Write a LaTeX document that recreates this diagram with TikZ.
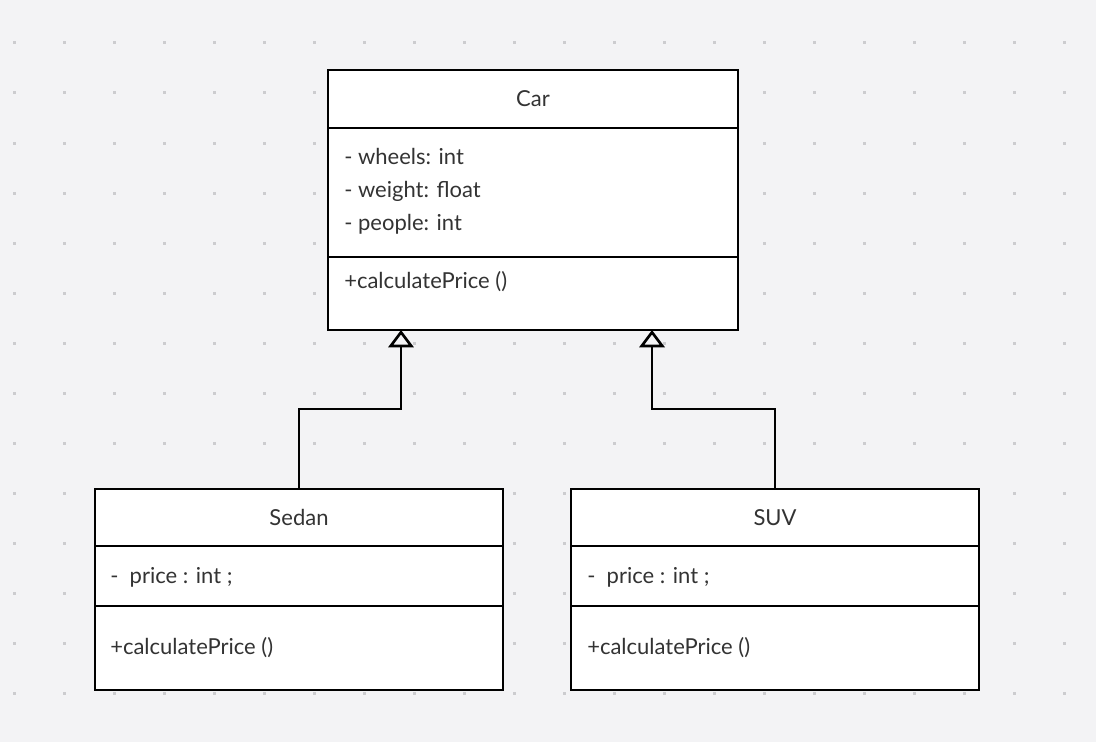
\documentclass[tikz,border=0pt]{standalone}
\usepackage{fontspec}
\setmainfont{Lato}
\usetikzlibrary{arrows.meta,positioning}
\definecolor{canvasgray}{RGB}{243,243,245}
\definecolor{griddot}{RGB}{204,204,207}
\definecolor{inkgray}{RGB}{51,51,51}
\tikzset{
  classbox/.style={draw=black, fill=white, line width=2pt, inner sep=0pt, outer sep=0pt, text=inkgray, font=\fontsize{16.5}{20}\selectfont},
  membertext/.style={anchor=west, inner sep=0.75pt, text=inkgray, align=left, font=\fontsize{16.5}{24.75}\selectfont},
  inherits/.style={line width=2pt, -{Triangle[open, length=13pt, width=19pt]}},
}
\begin{document}
\begin{tikzpicture}[x=0.75pt,y=0.75pt,yscale=-1,xscale=1]
\fill[canvasgray] (0,0) rectangle (1096,742);
\useasboundingbox (0,0) rectangle (1096,742);

%Grid dots
\foreach \col in {0,...,21}
  \foreach \row in {0,...,13}
    \fill[griddot] ({12.5+50*\col},{41.5+50*\row}) rectangle ++(3,3);

%Class Car
\node[classbox, minimum width=307.5pt, minimum height=43.5pt] (carhead) at (533,99) {Car};
\node[classbox, minimum width=307.5pt, minimum height=96.75pt, below=0pt of carhead] (carattrs) {};
\node[classbox, minimum width=307.5pt, minimum height=54.75pt, below=0pt of carattrs] (carops) {};

%Class Sedan
\node[classbox, minimum width=306pt, minimum height=42.75pt] (sedanhead) at (299,517.5) {Sedan};
\node[classbox, minimum width=306pt, minimum height=45pt, below=0pt of sedanhead] (sedanattrs) {};
\node[classbox, minimum width=306pt, minimum height=63pt, below=0pt of sedanattrs] (sedanops) {};

%Class SUV
\node[classbox, minimum width=306pt, minimum height=42.75pt] (suvhead) at (775,517.5) {SUV};
\node[classbox, minimum width=306pt, minimum height=45pt, below=0pt of suvhead] (suvattrs) {};
\node[classbox, minimum width=306pt, minimum height=63pt, below=0pt of suvattrs] (suvops) {};

% Text Node
\node[membertext] (carfields) at (343,191) {- wheels: int\\- weight: float\\- people: int};
\node[membertext] (carmethod) at (343,282) {+calculatePrice ()};
\node[membertext] (sedanfield) at (109,577) {-~~price : int ;};
\node[membertext] (sedanmethod) at (109,648) {+calculatePrice ()};
\node[membertext] (suvfield) at (586,577) {-~~price : int ;};
\node[membertext] (suvmethod) at (586,648) {+calculatePrice ()};

%Generalization
\coordinate (sedanbend) at (401,409);
\coordinate (suvbend) at (652,409);
\draw[inherits] (sedanhead.north) |- (sedanbend) -- (sedanbend |- carops.south);
\draw[inherits] (suvhead.north) |- (suvbend) -- (suvbend |- carops.south);

\end{tikzpicture}
\end{document}
